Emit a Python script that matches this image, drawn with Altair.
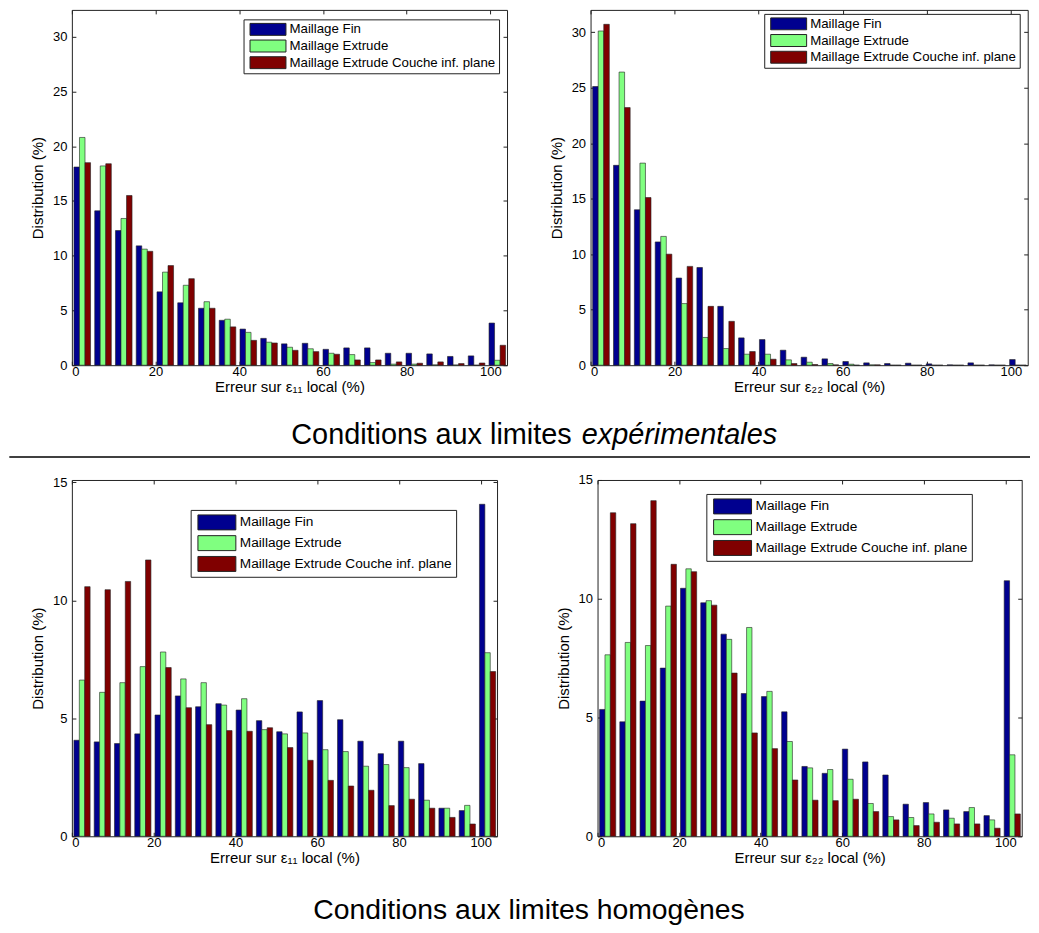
import altair as alt
import pandas as pd

SERIES = ["Maillage Fin", "Maillage Extrude", "Maillage Extrude Couche inf. plane"]
COLOURS = ["#00008F", "#80FF80", "#800000"]

BIN_CENTRES = [2.48, 7.44, 12.40, 17.36, 22.32, 27.28, 32.24, 37.20, 42.16, 47.12,
               52.08, 57.04, 62.00, 66.96, 71.92, 76.88, 81.84, 86.80, 91.76, 96.72, 101.68]

# Top-left : erreur eps11, conditions experimentales
TL_FIN = [18.1, 14.1, 12.3, 10.9, 6.7, 5.7, 5.2, 4.1, 3.3, 2.45, 1.95, 2.0, 1.45, 1.58, 1.58, 1.09, 1.09, 1.03, 0.8, 0.85, 3.85]
TL_EXT = [20.8, 18.2, 13.4, 10.6, 8.5, 7.3, 5.8, 4.2, 3.0, 2.1, 1.64, 1.5, 1.09, 0.97, 0.24, 0.1, 0.1, 0.03, 0.02, 0.0, 0.45]
TL_COU = [18.5, 18.4, 15.5, 10.4, 9.1, 7.9, 5.2, 3.5, 2.27, 2.03, 1.36, 1.24, 1.0, 0.48, 0.48, 0.3, 0.18, 0.3, 0.15, 0.2, 1.82]

# Top-right : erreur eps22, conditions experimentales
TR_FIN = [25.1, 18.0, 14.0, 11.1, 7.85, 8.8, 5.3, 2.46, 2.31, 1.35, 0.72, 0.57, 0.33, 0.21, 0.15, 0.18, 0.12, 0.03, 0.21, 0.03, 0.51]
TR_EXT = [30.1, 26.4, 18.2, 11.6, 5.55, 2.5, 1.5, 0.99, 0.99, 0.48, 0.27, 0.15, 0.09, 0.03, 0.0, 0.0, 0.0, 0.0, 0.0, 0.0, 0.0]
TR_COU = [30.7, 23.2, 15.1, 10.0, 8.9, 5.3, 3.95, 1.23, 0.54, 0.15, 0.06, 0.03, 0.0, 0.03, 0.0, 0.0, 0.0, 0.0, 0.0, 0.0, 0.0]

# Bottom-left : erreur eps11, conditions homogenes
BL_FIN = [4.07, 4.0, 3.93, 4.34, 5.14, 5.95, 5.49, 5.62, 5.35, 4.9, 4.43, 5.27, 5.75, 4.94, 4.03, 3.5, 4.03, 3.08, 1.19, 1.09, 14.07]
BL_EXT = [6.62, 6.1, 6.51, 7.19, 7.81, 6.67, 6.51, 5.56, 5.83, 4.52, 4.34, 4.38, 3.67, 3.59, 2.97, 3.04, 2.91, 1.53, 1.19, 1.31, 7.78]
BL_COU = [10.58, 10.45, 10.8, 11.71, 7.15, 5.45, 4.73, 4.48, 4.45, 4.6, 3.76, 3.22, 2.37, 2.13, 1.95, 1.3, 1.57, 1.19, 0.8, 0.52, 6.98]

# Bottom-right : erreur eps22, conditions homogenes
BR_FIN = [5.34, 4.82, 5.69, 7.08, 10.44, 9.83, 8.51, 6.01, 5.88, 5.24, 2.94, 2.65, 3.67, 3.13, 2.58, 1.35, 1.42, 1.11, 1.04, 0.87, 10.76]
BR_EXT = [7.64, 8.16, 8.03, 9.69, 11.26, 9.92, 8.29, 8.79, 6.1, 3.99, 2.88, 2.81, 2.4, 1.38, 0.83, 0.79, 0.94, 0.76, 1.21, 0.69, 3.43]
BR_COU = [13.62, 13.16, 14.13, 11.45, 11.14, 9.73, 6.87, 4.35, 3.69, 2.37, 1.52, 1.5, 1.56, 1.04, 0.69, 0.45, 0.59, 0.52, 0.52, 0.34, 0.94]

X_TICKS = [0, 20, 40, 60, 80, 100]
Y_TICKS_TOP = [0, 5, 10, 15, 20, 25, 30]
Y_TICKS_BOTTOM = [0, 5, 10, 15]

X_TITLE_11 = "Erreur sur \u03b5\u2081\u2081 local (%)"
X_TITLE_22 = "Erreur sur \u03b5\u2082\u2082 local (%)"
Y_TITLE = "Distribution (%)"
CAPTION_1A = "Conditions aux limites"
CAPTION_1B = "expérimentales"
CAPTION_2 = "Conditions aux limites homogènes"

FONT = "Liberation Sans"
BAR_STEP = 1.32
BAR_W = 1.32
TICK = 4
EDGE = "#222222"


def panel(fin, ext, cou, ymax, yticks, xtitle, w, h, ytitle_pad, leg):
    rows = []
    for i, (s, vals) in enumerate(zip(SERIES, (fin, ext, cou))):
        for c, v in zip(BIN_CENTRES, vals):
            rows.append({"series": s, "idx": i, "centre": c, "value": v})
    df = pd.DataFrame(rows)
    base = alt.Chart(df).transform_calculate(
        x0=f"datum.centre + (datum.idx - 1) * {BAR_STEP} - {BAR_W} / 2",
        x1=f"datum.centre + (datum.idx - 1) * {BAR_STEP} + {BAR_W} / 2",
    )
    xs = alt.Scale(domain=[0, 104], nice=False, zero=False, padding=0)
    ys = alt.Scale(domain=[0, ymax], nice=False, padding=0)
    common = dict(domain=False, grid=False, tickColor=EDGE, tickSize=TICK, offset=-TICK,
                  labelFont=FONT, labelFontSize=13, labelColor="black",
                  titleFont=FONT, titleFontSize=15, titleFontWeight="normal", titleColor="black")
    plain = {k: v for k, v in common.items() if not k.startswith("title")}
    k = leg["sh"] / leg["sw"]
    path = f"M-1,-{k:.4f}H1V{k:.4f}H-1Z"
    bars = base.mark_bar(stroke=EDGE, strokeWidth=0.6, orient="vertical").encode(
        x=alt.X("x0:Q", scale=xs, axis=alt.Axis(orient="bottom", values=X_TICKS, format="d",
                                                 title=xtitle, labelPadding=0, titlePadding=1,
                                                 **common)),
        x2="x1:Q",
        y=alt.Y("value:Q", scale=ys, stack=None,
                axis=alt.Axis(orient="left", values=yticks, format="d", title=Y_TITLE,
                              labelPadding=5, titlePadding=ytitle_pad, **common)),
        y2=alt.datum(0),
        color=alt.Color("series:N", sort=SERIES,
                        scale=alt.Scale(domain=SERIES, range=COLOURS),
                        legend=alt.Legend(title=None, orient="none", direction="vertical",
                                          legendX=leg["x"], legendY=leg["y"],
                                          fillColor="white", strokeColor=EDGE,
                                          padding=leg["pad"], rowPadding=leg["rowpad"],
                                          clipHeight=leg["clip"],
                                          symbolType=path, symbolSize=leg["sw"] ** 2,
                                          symbolStrokeColor=EDGE, symbolStrokeWidth=1,
                                          symbolOpacity=1,
                                          symbolOffset=leg["so"], labelOffset=leg["lo"],
                                          labelFont=FONT, labelFontSize=leg["fs"],
                                          labelColor="black", labelLimit=400)),
    )
    frame = base.mark_bar(opacity=0, orient="vertical").encode(
        x=alt.X("x0:Q", scale=xs, axis=alt.Axis(orient="top", values=X_TICKS, labels=False,
                                                 title=None, minExtent=0, **plain)),
        x2="x1:Q",
        y=alt.Y("value:Q", scale=ys, stack=None,
                axis=alt.Axis(orient="right", values=yticks, labels=False, title=None,
                              minExtent=0, **plain)),
        y2=alt.datum(0),
    )
    return (alt.layer(bars, frame)
            .resolve_axis(x="independent", y="independent")
            .properties(width=w, height=h,
                        view=alt.ViewBackground(stroke=EDGE, strokeWidth=1)))


LEG_TOP = dict(pad=3, rowpad=2.7, clip=14, sw=36, sh=12, so=3, lo=3, fs=13.3)
LEG_BOT = dict(pad=4, rowpad=3.8, clip=17, sw=38, sh=15, so=2.8, lo=3.5, fs=13.7)

tl = panel(TL_FIN, TL_EXT, TL_COU, 32.45, Y_TICKS_TOP, X_TITLE_11, 436, 356, 7,
           dict(LEG_TOP, x=172, y=9.5))
tr = panel(TR_FIN, TR_EXT, TR_COU, 32, Y_TICKS_TOP, X_TITLE_22, 438, 356, 7,
           dict(LEG_TOP, x=174, y=4))
bl = panel(BL_FIN, BL_EXT, BL_COU, 15.1, Y_TICKS_BOTTOM, X_TITLE_11, 426, 357, 7,
           dict(LEG_BOT, x=119, y=30))
br = panel(BR_FIN, BR_EXT, BR_COU, 15, Y_TICKS_BOTTOM, X_TITLE_22, 425, 357, 7,
           dict(LEG_BOT, x=109, y=14))

row1 = (alt.hconcat(tl, tr, spacing=40.7)
        .resolve_scale(color="independent").resolve_legend(color="independent"))
row2 = (alt.hconcat(bl, br, spacing=57.7)
        .resolve_scale(color="independent").resolve_legend(color="independent"))

CW = 958
CAP_FS = 28.4
CAP1_FS = 28.9
cap_df1 = pd.DataFrame({"a": [CAPTION_1A], "b": [CAPTION_1B]})
cap1_a = alt.Chart(cap_df1).mark_text(font=FONT, fontSize=CAP1_FS, align="right",
                                      baseline="middle", color="black").encode(
    text="a:N", x=alt.value(500.8), y=alt.value(40))
cap1_b = alt.Chart(cap_df1).mark_text(font=FONT, fontSize=CAP1_FS, fontStyle="italic",
                                      align="left", baseline="middle", color="black").encode(
    text="b:N", x=alt.value(510.8), y=alt.value(40))
sep = alt.Chart(cap_df1).mark_rule(color="black", strokeWidth=1.5).encode(
    x=alt.value(-62.7), x2=alt.value(960), y=alt.value(62))
cap1 = alt.layer(cap1_a, cap1_b, sep).properties(width=CW, height=78,
                                                 view=alt.ViewBackground(stroke=None))

cap_df2 = pd.DataFrame({"a": [CAPTION_2]})
cap2 = alt.Chart(cap_df2).mark_text(font=FONT, fontSize=CAP_FS, align="center",
                                    baseline="middle", color="black").encode(
    text="a:N", x=alt.value(458), y=alt.value(44)).properties(
    width=CW, height=20, view=alt.ViewBackground(stroke=None))

chart = (alt.vconcat(row1, cap1, row2, cap2, spacing=0)
         .resolve_scale(color="independent").resolve_legend(color="independent")
         .properties(padding={"left": 0, "top": 0, "right": 0, "bottom": 0},
                     background="white")
         .configure_view(stroke=None))

chart.save("out.html", embed_options={"renderer": "svg", "actions": False})
